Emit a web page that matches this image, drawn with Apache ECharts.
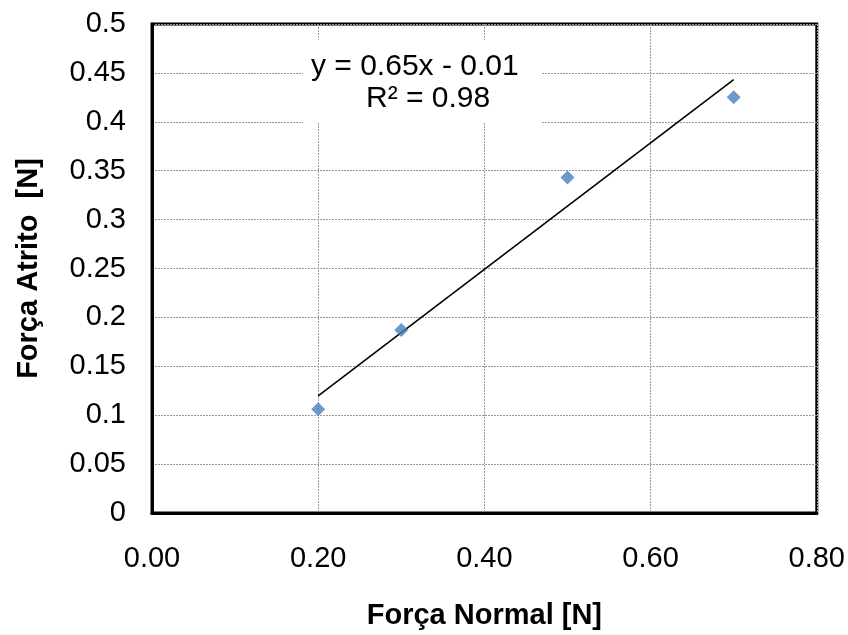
<!DOCTYPE html>
<html><head><meta charset="utf-8">
<script src="https://cdn.jsdelivr.net/npm/echarts@6/dist/echarts.min.js"></script>
<style>html,body{margin:0;padding:0;background:#fff}#c{width:848px;height:635px}</style>
</head><body><div id="c"></div>
<script>
const forcaNormal = [0.2, 0.3, 0.5, 0.7];
const forcaAtrito = [0.106, 0.187, 0.343, 0.425];
const equationText = 'y = 0.65x - 0.01';
const r2Text = 'R² = 0.98';

// linear trendline (least squares) over the data range
const n = forcaNormal.length;
const mx = forcaNormal.reduce((a,b)=>a+b,0)/n;
const my = forcaAtrito.reduce((a,b)=>a+b,0)/n;
let sxx=0, sxy=0;
for (let i=0;i<n;i++){ sxx+=(forcaNormal[i]-mx)**2; sxy+=(forcaNormal[i]-mx)*(forcaAtrito[i]-my); }
const slope = sxy/sxx, icpt = my - slope*mx;
const xmin = Math.min(...forcaNormal), xmax = Math.max(...forcaNormal);
const trend = [[xmin, slope*xmin+icpt],[xmax, slope*xmax+icpt]];

const chart = echarts.init(document.getElementById('c'));
const font = 'Liberation Sans, Arial, sans-serif';
const grid = {color:'#9a9a9a',type:[2,1],width:1};
chart.setOption({
  animation:false,
  grid:{left:152,right:29,top:24,bottom:119,show:true,borderColor:'#000',borderWidth:3,backgroundColor:'#fff'},
  xAxis:{type:'value',min:0,max:0.8,interval:0.2,
    name:'Força Normal [N]',nameLocation:'middle',nameGap:88,
    nameTextStyle:{fontFamily:font,fontSize:29,fontWeight:'bold',color:'#000'},
    axisLine:{show:true,lineStyle:{color:'#000',width:3}},axisTick:{show:false},
    axisLabel:{fontFamily:font,fontSize:29,color:'#000',margin:31,formatter:v=>v.toFixed(2)},
    splitLine:{show:true,lineStyle:grid}},
  yAxis:{type:'value',min:0,max:0.5,interval:0.05,
    name:'Força Atrito  [N]',nameLocation:'middle',nameGap:109,
    nameTextStyle:{fontFamily:font,fontSize:29,fontWeight:'bold',color:'#000'},
    axisLine:{show:true,lineStyle:{color:'#000',width:3}},axisTick:{show:false},
    axisLabel:{fontFamily:font,fontSize:29,color:'#000',margin:26,formatter:v=>String(+v.toFixed(2))},
    splitLine:{show:true,lineStyle:grid}},
  series:[
    {type:'line',data:trend,symbol:'none',lineStyle:{color:'#000',width:1.6},z:3},
    {type:'scatter',data:forcaNormal.map((x,i)=>[x,forcaAtrito[i]]),symbol:'diamond',symbolSize:14,
     itemStyle:{color:'#4a7ebb'},z:4}
  ],
  graphic:[
    {type:'rect',z:9,shape:{x:303,y:40,width:239,height:83},style:{fill:'#fff'}},
    {type:'text',z:10,x:311,y:67,style:{text:equationText,fontFamily:font,fontSize:30,fill:'#000',align:'left',verticalAlign:'middle'}},
    {type:'text',z:10,x:366,y:99,style:{text:r2Text,fontFamily:font,fontSize:30,fill:'#000',align:'left',verticalAlign:'middle'}}
  ]
});
</script></body></html>
